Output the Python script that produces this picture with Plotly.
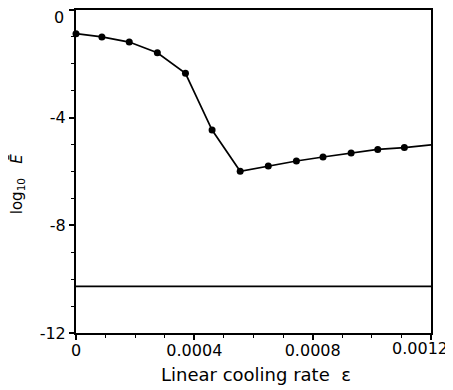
import plotly.graph_objects as go

# data
rate = [0, 0.0000875, 0.00018, 0.000275, 0.00037, 0.00046, 0.000555,
        0.00065, 0.000745, 0.000835, 0.00093, 0.00102, 0.00111]
log_e = [-0.88, -1.00, -1.19, -1.59, -2.35, -4.46, -5.99,
         -5.80, -5.61, -5.46, -5.31, -5.18, -5.11]
end_rate = 0.0012
end_log_e = -5.01
baseline = -10.27

x_ticks = [0, 0.0004, 0.0008, 0.0012]
x_tick_labels = ["0", "0.0004", "0.0008", ""]
x_end_label = "0.0012"
y_ticks = [0, -4, -8, -12]
y_tick_labels = ["", "-4", "-8", "-12"]
y_top_label = "0"

font = "DejaVu Sans"
nb = "\u00a0"

fig = go.Figure()
fig.add_trace(go.Scatter(
    x=rate + [end_rate], y=log_e + [end_log_e], mode="lines",
    line=dict(color="black", width=1.7), hoverinfo="skip", cliponaxis=False))
fig.add_trace(go.Scatter(
    x=rate, y=log_e, mode="markers",
    marker=dict(color="black", size=7), hoverinfo="skip", cliponaxis=False))
fig.add_trace(go.Scatter(
    x=[0, end_rate], y=[baseline, baseline], mode="lines",
    line=dict(color="black", width=1.8), hoverinfo="skip"))

fig.update_layout(
    width=445, height=382,
    margin=dict(l=68, r=22, t=2, b=57, autoexpand=False),
    plot_bgcolor="white", paper_bgcolor="white",
    showlegend=False,
    font=dict(family=font, size=16, color="black"),
    annotations=[
        dict(text="Linear cooling rate" + nb * 2 + "ε", xref="paper", yref="paper",
             x=0.507, y=-0.127, xanchor="center", yanchor="middle",
             showarrow=False, font=dict(size=18)),
        dict(text="log<sub>10</sub>" + nb * 3 + "<i>Ē</i>", xref="paper", yref="paper",
             x=-0.164, y=0.463, xanchor="center", yanchor="middle",
             textangle=-90, showarrow=False, font=dict(size=15)),
        dict(text=y_top_label, xref="paper", yref="y",
             x=-0.048, y=0, xanchor="center", yanchor="top", yshift=4,
             showarrow=False, font=dict(size=16)),
        dict(text=x_end_label, xref="paper", yref="paper",
             x=1.0535, y=-0.048, xanchor="right", yanchor="middle",
             showarrow=False, font=dict(size=16)),
    ],
)
fig.update_xaxes(
    range=[-1e-9, 0.0012 + 1e-9], tickvals=x_ticks, ticktext=x_tick_labels,
    showline=True, linecolor="black", linewidth=2, mirror=True,
    showgrid=False, zeroline=False, automargin=False, ticklabeloverflow="allow",
    ticks="outside", ticklen=5, tickwidth=1.5, tickcolor="black", ticklabelstandoff=-3,
    minor=dict(dtick=0.0001, ticks="outside", ticklen=3, tickwidth=1.2, tickcolor="black", showgrid=False),
)
fig.update_yaxes(
    range=[-12.001, 0.001], tickvals=y_ticks, ticktext=y_tick_labels,
    showline=True, linecolor="black", linewidth=2, mirror=True,
    showgrid=False, zeroline=False, automargin=False, ticklabeloverflow="allow",
    ticks="outside", ticklen=5, tickwidth=1.5, tickcolor="black",
    minor=dict(dtick=1, ticks="outside", ticklen=3, tickwidth=1.2, tickcolor="black", showgrid=False),
)

fig.write_html("out.html")
